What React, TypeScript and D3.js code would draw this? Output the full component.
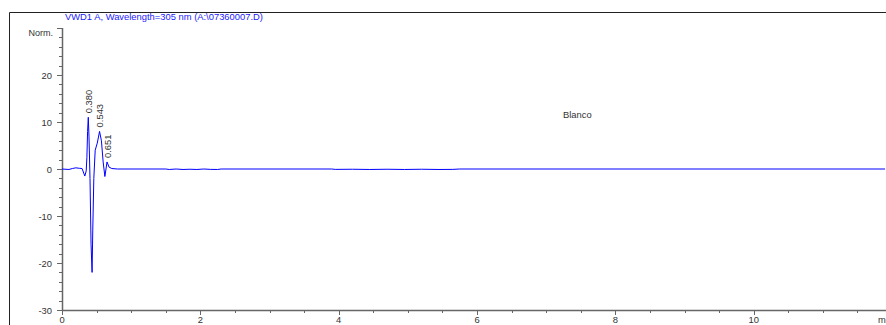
import { useEffect, useRef } from "react";
import * as d3 from "d3";

// chromatogram trace (minutes, Norm.)
const times = [
  0, 0.1, 0.15, 0.2, 0.25, 0.29, 0.33, 0.35, 0.36, 0.37, 0.38, 0.39, 0.405,
  0.42, 0.435, 0.445, 0.46, 0.48, 0.51, 0.543, 0.57, 0.595, 0.62, 0.651, 0.68,
  0.72, 0.8, 1.5, 1.55, 1.65, 1.75, 1.85, 1.95, 2.05, 2.15, 2.25, 2.3, 3.9,
  3.95, 4.2, 4.45, 4.7, 4.95, 5.2, 5.45, 5.65, 5.75, 11.9,
];
const signal = [
  0, -0.1, 0.1, 0.25, 0.15, 0.1, -1.5, -0.4, 2.5, 8, 11, 7, -2, -16, -22, -13,
  -2, 4, 5.5, 8, 6, 1.5, -1.6, 1.5, 0.4, 0.1, 0, 0, -0.1, 0, -0.1, -0.05, -0.1,
  0, -0.08, -0.1, 0, 0, -0.08, -0.05, -0.1, -0.05, -0.1, -0.05, -0.1, -0.08, 0,
  0,
];
const peakTimes = [0.38, 0.543, 0.651];
const peakLabels = ["0.380", "0.543", "0.651"];
const xMajor = [0, 2, 4, 6, 8, 10];
const yMajor = [-30, -20, -10, 0, 10, 20];

const title = "VWD1 A, Wavelength=305 nm (A:\\07360007.D)";
const font = "'Liberation Sans', Arial, sans-serif";

export default function App() {
  const ref = useRef<SVGSVGElement>(null);

  useEffect(() => {
    const svg = d3.select(ref.current);
    svg.selectAll("*").remove();

    const x = d3.scaleLinear().domain([0, 12]).range([62, 892]);
    const y = d3.scaleLinear().domain([-30, 30]).range([310, 28]);

    // outer frame (left and top)
    svg
      .append("path")
      .attr("d", "M9.5,325 V12.5 H886")
      .attr("fill", "none")
      .attr("stroke", "#222")
      .attr("stroke-width", 1);

    svg
      .append("text")
      .attr("x", 65)
      .attr("y", 20)
      .attr("fill", "#1a1aff")
      .style("font-family", font)
      .style("font-size", "9.4px")
      .text(title);

    const axisColor = "#666";

    // y axis
    svg
      .append("line")
      .attr("x1", 62.5)
      .attr("x2", 62.5)
      .attr("y1", y(30))
      .attr("y2", y(-30))
      .attr("stroke", axisColor)
      .attr("stroke-width", 1.5);
    const yMinor = d3.range(-30, 30.1, 2);
    svg
      .selectAll(".ymin")
      .data(yMinor)
      .enter()
      .append("line")
      .attr("x1", 59)
      .attr("x2", 62)
      .attr("y1", (d) => Math.round(y(d)) + 0.5)
      .attr("y2", (d) => Math.round(y(d)) + 0.5)
      .attr("stroke", axisColor);
    svg
      .selectAll(".ymaj")
      .data(yMajor.concat([30]))
      .enter()
      .append("line")
      .attr("x1", 57)
      .attr("x2", 62)
      .attr("y1", (d) => Math.round(y(d)) + 0.5)
      .attr("y2", (d) => Math.round(y(d)) + 0.5)
      .attr("stroke", axisColor);
    svg
      .selectAll(".ylab")
      .data(yMajor)
      .enter()
      .append("text")
      .attr("x", 52)
      .attr("y", (d) => y(d) + 3.5)
      .attr("text-anchor", "end")
      .attr("fill", "#333")
      .style("font-family", font)
      .style("font-size", "9.4px")
      .text((d) => String(d));
    svg
      .append("text")
      .attr("x", 53)
      .attr("y", 36)
      .attr("text-anchor", "end")
      .attr("fill", "#333")
      .style("font-family", font)
      .style("font-size", "9px")
      .text("Norm.");

    // x axis
    svg
      .append("line")
      .attr("x1", 62)
      .attr("x2", 886)
      .attr("y1", 310.5)
      .attr("y2", 310.5)
      .attr("stroke", axisColor)
      .attr("stroke-width", 1.5);
    const xMinor = d3.range(0, 11.9, 0.5);
    svg
      .selectAll(".xmin")
      .data(xMinor)
      .enter()
      .append("line")
      .attr("x1", (d) => Math.round(x(d)) + 0.5)
      .attr("x2", (d) => Math.round(x(d)) + 0.5)
      .attr("y1", 311)
      .attr("y2", 313)
      .attr("stroke", axisColor);
    svg
      .selectAll(".xmaj")
      .data(xMajor)
      .enter()
      .append("line")
      .attr("x1", (d) => Math.round(x(d)) + 0.5)
      .attr("x2", (d) => Math.round(x(d)) + 0.5)
      .attr("y1", 311)
      .attr("y2", 315)
      .attr("stroke", axisColor);
    svg
      .selectAll(".xlab")
      .data(xMajor)
      .enter()
      .append("text")
      .attr("x", (d) => x(d))
      .attr("y", 323)
      .attr("text-anchor", "middle")
      .attr("fill", "#333")
      .style("font-family", font)
      .style("font-size", "9.4px")
      .text((d) => String(d));
    svg
      .append("text")
      .attr("x", 878)
      .attr("y", 323)
      .attr("fill", "#333")
      .style("font-family", font)
      .style("font-size", "9.4px")
      .text("m");

    // trace
    const pts: [number, number][] = times.map((t, i) => [t, signal[i]]);
    const line = d3
      .line<[number, number]>()
      .x((d) => x(d[0]))
      .y((d) => y(d[1]));
    svg
      .append("path")
      .datum(pts)
      .attr("d", line)
      .attr("fill", "none")
      .attr("stroke", "#0000ff")
      .attr("stroke-width", 1);

    // peak labels
    peakTimes.forEach((t, i) => {
      const idx = times.indexOf(t);
      const px = x(t) + 3.5;
      const py = y(signal[idx]) - 4;
      svg
        .append("text")
        .attr("transform", `translate(${px},${py}) rotate(-90)`)
        .attr("fill", "#333")
        .style("font-family", font)
        .style("font-size", "9.4px")
        .text(peakLabels[i]);
    });

    svg
      .append("text")
      .attr("x", 563)
      .attr("y", 118)
      .attr("fill", "#333")
      .style("font-family", font)
      .style("font-size", "9.4px")
      .text("Blanco");
  }, []);

  return (
    <svg
      ref={ref}
      width={886}
      height={325}
      style={{ position: "absolute", left: 0, top: 0, background: "#fff" }}
    />
  );
}
